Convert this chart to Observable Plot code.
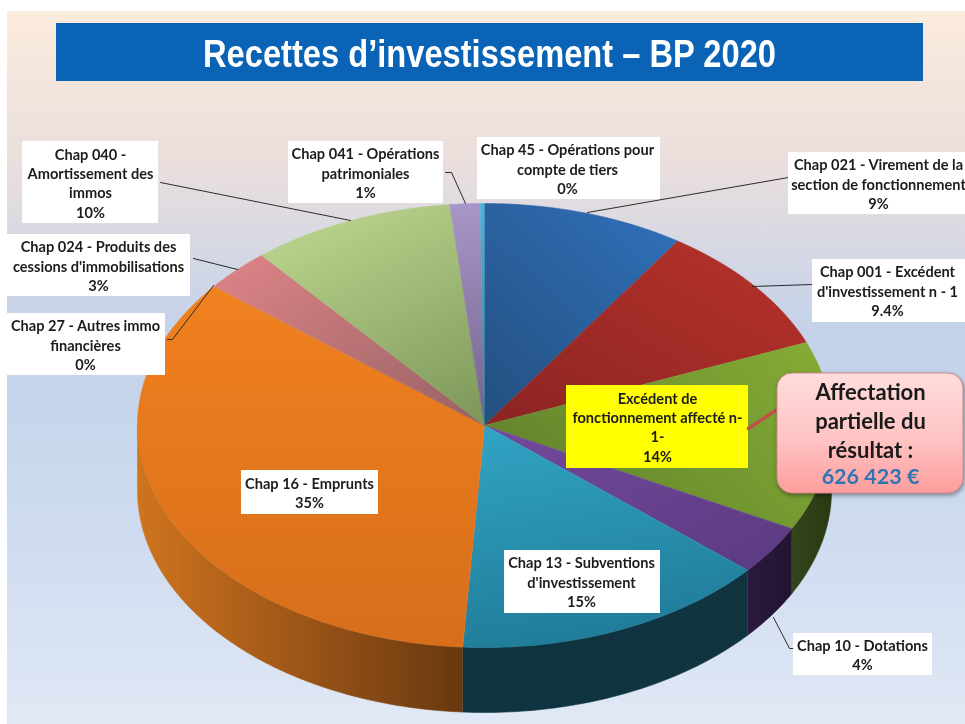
<!DOCTYPE html>
<html lang="fr">
<head>
<meta charset="utf-8">
<script src="https://cdn.jsdelivr.net/npm/d3@7"></script>
<script src="https://cdn.jsdelivr.net/npm/@observablehq/plot@0.6"></script>
<style>html,body{margin:0;padding:0;background:#fff}svg{display:block}</style>
</head>
<body>
<div id="chart"></div>
<script>
// ---- data ----
const categories = ["Chap 021","Chap 001","Excédent","Chap 10","Chap 13","Chap 16","Chap 27","Chap 024","Chap 040","Chap 041","Chap 45"];
const shares = [9.4, 9.5, 13.8, 3.6, 14.7, 34.7, 0.1, 3.1, 9.5, 1.4, 0.2];
const names = [
  "Chap 021 - Virement de la\nsection de fonctionnement",
  "Chap 001 - Excédent\nd'investissement n - 1",
  "Excédent de\nfonctionnement affecté n-\n1-",
  "Chap 10 - Dotations",
  "Chap 13 - Subventions\nd'investissement",
  "Chap 16 - Emprunts",
  "Chap 27 - Autres immo\nfinancières",
  "Chap 024 - Produits des\ncessions d'immobilisations",
  "Chap 040 -\nAmortissement des\nimmos",
  "Chap 041 - Opérations\npatrimoniales",
  "Chap 45 - Opérations pour\ncompte de tiers"
];
const printedShares = ["9%","9.4%","14%","4%","15%","35%","0%","3%","10%","1%","0%"];
const titleText = "Recettes d’investissement – BP 2020";
const calloutLines = "Affectation\npartielle du\nrésultat :";
const calloutAmount = "626 423 €";

// ---- styles and layout (pixels of the 965x724 canvas) ----
const W = 965, H = 724;
const pie = {cx: 484, cy: 425, rx: 347, ry: 222, depth: 65};
const topColors = [
  ["#2f6eb6","#234f7e",0.8,0,0,1],
  ["#b9322b","#8a2422",1,0,0,1],
  ["#85ad35","#64852c",1,0,0,0.5],
  ["#724a9c","#5b3a82",0,0,1,1],
  ["#31a2c2","#1f7b97",0.3,0,0.5,1],
  ["#f1811f","#d66e1b",0.5,0,0.5,1],
  ["#f1811f","#d66e1b",0,0,0,1],
  ["#de8488","#976263",0,0,1,1],
  ["#b8d28c","#7d9859",0.4,0,0.9,1],
  ["#a896c8","#72628a",0,0,0,1],
  ["#4fb2d6","#2b7f9c",0,0,0,1]
];
const wallColors = {
  "Excédent": ["#33451a","#2a3a14"],
  "Chap 10": ["#2a1a40","#21142f"],
  "Chap 13": ["#0f3542","#10333f"],
  "Chap 16": ["#cf741f","#693810"]
};
const boxes = [
  {x1:788,x2:965,y1:152,y2:214,tx:878,ty:183},
  {x1:812,x2:965,y1:259,y2:322,tx:887,ty:290},
  {x1:566,x2:748,y1:385,y2:468,tx:657,ty:426,bg:"#ffff00"},
  {x1:793,x2:932,y1:633,y2:675,tx:862,ty:654},
  {x1:504,x2:660,y1:550,y2:613,tx:581,ty:581},
  {x1:241,x2:378,y1:470,y2:514,tx:309,ty:492},
  {x1:7,x2:165,y1:313,y2:375,tx:85,ty:344},
  {x1:7,x2:190,y1:234,y2:296,tx:98,ty:265},
  {x1:22,x2:158,y1:141,y2:223,tx:90,ty:182},
  {x1:288,x2:443,y1:141,y2:203,tx:365,ty:172},
  {x1:477,x2:660,y1:137,y2:199,tx:567,ty:168}
];
const leaders = [
  {id:"a",p:[[160,182],[350,220]]},
  {id:"b",p:[[445,172],[451,172],[465,203]]},
  {id:"c",p:[[193,258],[237,269]]},
  {id:"d",p:[[167,339],[172,339],[213,285]]},
  {id:"e",p:[[788,177],[587,212]]},
  {id:"f",p:[[812,284],[752,286]]},
  {id:"g",p:[[773,617],[789,648],[795,648]]}
].flatMap(l => l.p.map(([x,y]) => ({id:l.id,x,y})));

// ---- slices built from the shares ----
const total = d3.sum(shares);
const ends = d3.cumsum(shares).map(v => v / total * 360);
const spans = categories.map((c,i) => ({c, a0: i ? ends[i-1] : 0, a1: ends[i]}));
const rad = d => d * Math.PI / 180;
const px = a => pie.cx + pie.rx * Math.sin(rad(a));
const py = (a, dy=0) => pie.cy - pie.ry * Math.cos(rad(a)) + dy;
const arc = (a0,a1) => { const n = Math.max(2, Math.ceil(a1-a0)+1); return d3.range(n).map(i => a0 + (a1-a0)*i/(n-1)); };
const topPoints = spans.flatMap(s => [
  {slice:s.c,x:pie.cx,y:pie.cy},
  ...arc(s.a0,s.a1).map(a => ({slice:s.c,x:px(a),y:py(a)}))
]);
const wallPoints = spans.filter(s => wallColors[s.c]).flatMap(s => {
  const a0 = Math.max(s.a0,90), a1 = Math.min(s.a1,270), as = arc(a0,a1);
  const name = s.c + " wall";
  return [...as.map(a => ({slice:name,x:px(a),y:py(a)})),
          ...as.slice().reverse().map(a => ({slice:name,x:px(a),y:py(a,pie.depth)}))];
});
const gradId = i => "g" + i;
const wallKeys = Object.keys(wallColors);
const colorDomain = [...categories, ...wallKeys.map(k => k + " wall")];
const colorRange = [...categories.map((c,i) => `url(#${gradId(i)})`), ...wallKeys.map(k => `url(#w${categories.indexOf(k)})`)];

const defs = () => {
  const d = d3.create("svg:defs");
  const lin = (id,stops,x1,y1,x2,y2) => {
    const g = d.append("linearGradient").attr("id",id).attr("x1",x1).attr("y1",y1).attr("x2",x2).attr("y2",y2);
    stops.forEach(([o,c]) => g.append("stop").attr("offset",o).attr("stop-color",c));
  };
  topColors.forEach(([a,b,x1,y1,x2,y2],i) => lin(gradId(i),[[0,a],[1,b]],x1,y1,x2,y2));
  wallKeys.forEach(k => lin("w"+categories.indexOf(k),[[0,wallColors[k][0]],[1,wallColors[k][1]]],0,0,1,0));
  lin("bg",[[0,"#fbecdd"],[0.2,"#ecdfdc"],[0.45,"#c3d2ea"],[0.75,"#cfdcf0"],[1,"#e1e8f5"]],0,0,0,1);
  lin("pink",[[0,"#ffdcdc"],[0.55,"#ffc4c4"],[1,"#ff9c9c"]],0,0,0,1);
  return d.node();
};

const fitTitle = (index, scales, values, dimensions, context, next) => {
  const g = next(index, scales, values, dimensions, context);
  const t = g.querySelector("text");
  t.setAttribute("textLength", 573);
  t.setAttribute("lengthAdjust", "spacingAndGlyphs");
  return g;
};

const fontLabel = "Lato, 'Open Sans', sans-serif";
const chart = Plot.plot({
  width: W, height: H,
  margin: 0,
  x: {domain:[0,W], range:[0,W], axis:null},
  y: {domain:[0,H], range:[0,H], axis:null},
  color: {type:"ordinal", domain:colorDomain, range:colorRange},
  style: {background:"#fff", fontFamily:fontLabel, filter:"blur(0.45px)"},
  marks: [
    defs,
    Plot.rect([{}], {x1:()=>7,x2:()=>W,y1:()=>11,y2:()=>H,fill:"url(#bg)"}),
    Plot.rect([{}], {x1:()=>56,x2:()=>923,y1:()=>23,y2:()=>81,fill:"#0b63b5"}),
    Plot.text([titleText], {x:()=>489,y:()=>54,text:d=>d,fill:"#fff",fontSize:39,fontWeight:"bold",fontFamily:"'Liberation Sans',sans-serif",render:fitTitle}),
    Plot.line(wallPoints, {x:"x",y:"y",z:"slice",fill:"slice",stroke:"slice",strokeWidth:0.6}),
    Plot.line(topPoints, {x:"x",y:"y",z:"slice",fill:"slice",stroke:"slice",strokeWidth:0.6}),
    Plot.line(leaders, {x:"x",y:"y",z:"id",stroke:"#2b2b2b",strokeWidth:1,curve:"linear"}),
    Plot.rect(boxes, {x1:"x1",x2:"x2",y1:"y1",y2:"y2",fill:d=>d.bg ?? "#fff"}),
    Plot.text(boxes, {x:"tx",y:"ty",text:(d,i)=>names[i]+"\n"+printedShares[i],fill:"#1c1c1c",fontSize:14.6,fontWeight:"bold",lineHeight:1.33}),
    Plot.line([{x:775,y:410},{x:748,y:428}], {x:"x",y:"y",stroke:"#c0504d",strokeWidth:3.5}),
    Plot.rect([{}], {x1:()=>777,x2:()=>963,y1:()=>373,y2:()=>493,rx:15,fill:"url(#pink)",stroke:"#d08a8a",strokeWidth:1,imageFilter:"drop-shadow(1px 2px 2px rgba(0,0,0,.4))"}),
    Plot.text([calloutLines], {x:()=>870,y:()=>419,text:d=>d,fill:"#1a1a1a",fontSize:22,fontWeight:"bold",lineHeight:1.32}),
    Plot.text([calloutAmount], {x:()=>870,y:()=>477,text:d=>d,fill:"#2e75b6",fontSize:21.5,fontWeight:"bold"})
  ]
});
document.getElementById("chart").append(chart);
</script>
</body>
</html>
